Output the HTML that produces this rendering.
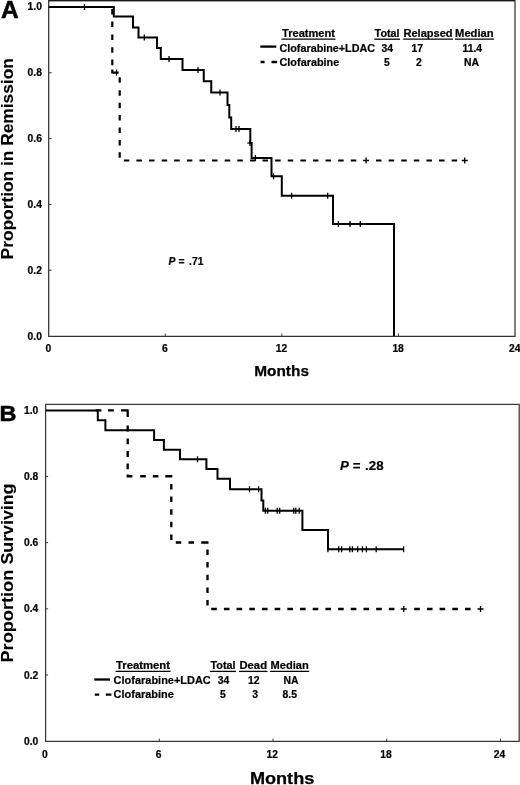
<!DOCTYPE html>
<html lang="en">
<head>
<meta charset="utf-8">
<title>Kaplan-Meier curves: remission and survival</title>
<style>
html,body{margin:0;padding:0;background:#fff;}
body{width:520px;height:785px;overflow:hidden;}
svg{display:block;will-change:transform;}
svg text{font-family:"Liberation Sans", Arial, sans-serif;font-weight:bold;fill:#000;stroke:#000;stroke-width:0.22px;stroke-linejoin:round;}
svg text.big{stroke-width:0.5px;}
svg text.ylab{stroke-width:0.12px;}
svg text.mon{stroke-width:0.25px;}
</style>
</head>
<body>
<svg width="520" height="785" viewBox="0 0 520 785">
<rect width="520" height="785" fill="#fff"/>
<g>
<path d="M48.7,0.5H515.0V336.3H48.7Z" fill="none" stroke="#333" stroke-width="1.25"/>
<path d="M48.7,0.5H515.0" fill="none" stroke="#1a1a1a" stroke-width="1.4"/>
<path d="M48.7,7.00h3M48.7,72.80h3M48.7,138.60h3M48.7,204.40h3M48.7,270.20h3M165.28,336.3v-2.8M281.86,336.3v-2.8M398.44,336.3v-2.8" fill="none" stroke="#3a3a3a" stroke-width="1"/>
<path d="M48.7,7H113.8V16.6H133V27.5H138.5V37.5H157V48H160.8V59H182.5V70H203.75V81.2H211.25V92.5H227.5V105H229.3V117.5H231.2V129H250.3V143H251.6V158H271.5V176.2H281.8V195.7H333V224H394V336" fill="none" stroke="#000" stroke-width="2" stroke-linejoin="miter"/>
<path d="M84.50,4.00V10.00M144.30,34.50V40.50M169.00,56.00V62.00M198.00,67.00V73.00M220.00,89.50V95.50M236.00,126.00V132.00M239.00,126.00V132.00M250.00,140.00V146.00M255.40,155.00V161.00M273.50,173.20V179.20M291.60,192.70V198.70M327.70,192.70V198.70M338.40,221.00V227.00M350.00,221.00V227.00M360.30,221.00V227.00" fill="none" stroke="#000" stroke-width="1.3"/>
<path d="M247.3,143H252.5" fill="none" stroke="#000" stroke-width="1.2"/>
<path d="M112.30,9.00V14.60M112.30,21.50V27.10M112.30,34.40V40.00M112.30,47.20V52.80M112.30,59.60V65.20M112.3,69.6V73.5M112.5,72.6H118.6M119.70,77.30V82.80M119.70,90.20V95.70M119.70,102.70V108.20M119.70,115.00V120.50M119.70,127.40V132.90M119.70,140.00V145.50M119.70,152.30V157.80M123.80,160.50H129.30M136.41,160.50H141.91M149.02,160.50H154.52M161.63,160.50H167.13M174.24,160.50H179.74M186.85,160.50H192.35M199.46,160.50H204.96M212.07,160.50H217.57M224.68,160.50H230.18M237.29,160.50H242.79M249.90,160.50H255.40M262.51,160.50H268.01M275.12,160.50H280.62M287.73,160.50H293.23M300.34,160.50H305.84M312.95,160.50H318.45M325.56,160.50H331.06M338.17,160.50H343.67M350.78,160.50H356.28M376.00,160.50H381.50M388.61,160.50H394.11M401.22,160.50H406.72M413.83,160.50H419.33M426.44,160.50H431.94M439.05,160.50H444.55M451.66,160.50H457.16" fill="none" stroke="#000" stroke-width="2.2"/>
<path d="M116.50,69.60V75.60" fill="none" stroke="#000" stroke-width="1.2"/>
<path d="M363.10,160.50H369.10M366.10,157.50V163.50M461.70,160.50H467.70M464.70,157.50V163.50" fill="none" stroke="#000" stroke-width="1.3"/>
<path d="M45.6,404.3H519.2V741.45H45.6Z" fill="none" stroke="#383838" stroke-width="1.25"/>
<path d="M45.6,410.30h2.5M45.6,476.48h2.5M45.6,542.66h2.5M45.6,608.84h2.5M45.6,675.02h2.5M159.30,741.45v-2.8M273.00,741.45v-2.8M386.70,741.45v-2.8M500.40,741.45v-2.8" fill="none" stroke="#3a3a3a" stroke-width="1"/>
<path d="M45.6,410.6H97.8V420.3H105.4V430.2H154.1V440.1H163.9V449.8H180V459.3H206.4V469H217.5V478.8H230V489.2H261.5V500.5H263.3V510.7H302.4V530H328V549.2H403.7" fill="none" stroke="#000" stroke-width="2" stroke-linejoin="miter"/>
<path d="M197.50,456.30V462.30M249.50,486.20V492.20M258.60,486.20V492.20M265.40,507.70V513.70M267.70,507.70V513.70M277.20,507.70V513.70M279.70,507.70V513.70M293.80,507.70V513.70M295.80,507.70V513.70M299.20,507.70V513.70M327.90,546.20V552.20M338.70,546.20V552.20M341.60,546.20V552.20M349.80,546.20V552.20M352.40,546.20V552.20M357.70,546.20V552.20M362.40,546.20V552.20M366.40,546.20V552.20M376.20,546.20V552.20M403.60,546.20V552.20" fill="none" stroke="#000" stroke-width="1.3"/>
<path d="M95.60,410.40H101.40M108.00,410.40H113.80M121,410.4H128.7M127.70,411.20V417.10M127.70,425.60V431.50M127.70,438.40V444.30M127.70,451.00V456.90M127.70,463.40V469.30M127.7,474.4V477.2M126.7,476.2H132.4M140.20,476.20H145.80M152.80,476.20H158.40M165.3,476.2H172.3M171.30,484.00V489.50M171.30,496.60V502.10M171.30,509.20V514.70M171.30,521.80V527.30M171.30,534.40V539.90M175.75,542.50H181.25M188.50,542.50H194.00M201.25,542.5H208.5M207.50,549.50V555.00M207.50,562.00V567.50M207.50,574.80V580.30M207.50,587.50V593.00M207.50,600.00V605.50M211.20,609.00H216.80M223.89,609.00H229.49M236.58,609.00H242.18M249.27,609.00H254.87M261.96,609.00H267.56M274.65,609.00H280.25M287.34,609.00H292.94M300.03,609.00H305.63M312.72,609.00H318.32M325.41,609.00H331.01M338.10,609.00H343.70M350.79,609.00H356.39M363.48,609.00H369.08M376.17,609.00H381.77M388.86,609.00H394.46M414.24,609.00H419.84M426.93,609.00H432.53M439.62,609.00H445.22M452.31,609.00H457.91M465.00,609.00H470.60" fill="none" stroke="#000" stroke-width="2.35"/>
<path d="M400.75,609.00H406.75M403.75,606.00V612.00M477.50,609.00H483.50M480.50,606.00V612.00" fill="none" stroke="#000" stroke-width="1.3"/>
</g>
<g>
<text x="0.9" y="18.2" font-size="23.3" text-anchor="start" textLength="17.7" lengthAdjust="spacingAndGlyphs" class="big">A</text>
<text x="-0.6" y="421.1" font-size="22" text-anchor="start" textLength="16.9" lengthAdjust="spacingAndGlyphs" class="big">B</text>
<text x="41.9" y="9.8" font-size="10.3" text-anchor="end">1.0</text>
<text x="41.9" y="76.3" font-size="10.3" text-anchor="end">0.8</text>
<text x="41.9" y="142.1" font-size="10.3" text-anchor="end">0.6</text>
<text x="41.9" y="207.9" font-size="10.3" text-anchor="end">0.4</text>
<text x="41.9" y="273.7" font-size="10.3" text-anchor="end">0.2</text>
<text x="41.9" y="339.5" font-size="10.3" text-anchor="end">0.0</text>
<text x="48.4" y="351.7" font-size="10.3" text-anchor="middle">0</text>
<text x="164.98" y="351.7" font-size="10.3" text-anchor="middle">6</text>
<text x="281.56" y="351.7" font-size="10.3" text-anchor="middle">12</text>
<text x="398.14" y="351.7" font-size="10.3" text-anchor="middle">18</text>
<text x="509" y="351.7" font-size="10.3" text-anchor="start">24</text>
<text x="254.2" y="375.8" font-size="15.2" text-anchor="start" textLength="54.8" lengthAdjust="spacingAndGlyphs" class="mon">Months</text>
<text class="ylab" transform="translate(12.9,259.4) rotate(-90)" font-size="17" textLength="201.2" lengthAdjust="spacingAndGlyphs">Proportion in Remission</text>
<text x="282" y="37.3" font-size="10.7" text-anchor="start" textLength="53" lengthAdjust="spacingAndGlyphs">Treatment</text>
<path d="M281.5,39.2H335.5" stroke="#000" stroke-width="1.3" fill="none"/>
<text x="374.6" y="37.3" font-size="10.7" text-anchor="start" textLength="25" lengthAdjust="spacingAndGlyphs">Total</text>
<path d="M374.3,39.2H400" stroke="#000" stroke-width="1.3" fill="none"/>
<text x="403.5" y="37.3" font-size="10.7" text-anchor="start" textLength="49" lengthAdjust="spacingAndGlyphs">Relapsed</text>
<path d="M403.2,39.2H453" stroke="#000" stroke-width="1.3" fill="none"/>
<text x="455.1" y="37.3" font-size="10.7" text-anchor="start" textLength="38.5" lengthAdjust="spacingAndGlyphs">Median</text>
<path d="M454.9,39.2H494" stroke="#000" stroke-width="1.3" fill="none"/>
<path d="M260.3,46.6H276.3" stroke="#000" stroke-width="2.3" fill="none"/>
<text x="279.5" y="51.8" font-size="10.7" text-anchor="start" textLength="95.5" lengthAdjust="spacingAndGlyphs">Clofarabine+LDAC</text>
<text x="387.2" y="51.8" font-size="10.4" text-anchor="middle">34</text>
<text x="417.3" y="51.8" font-size="10.4" text-anchor="middle">17</text>
<text x="472.3" y="51.8" font-size="10.4" text-anchor="middle">11.4</text>
<path d="M260.6,62H264.6M271.5,62H277.2" stroke="#000" stroke-width="2.3" fill="none"/>
<text x="279.5" y="65.7" font-size="10.7" text-anchor="start" textLength="59.8" lengthAdjust="spacingAndGlyphs">Clofarabine</text>
<text x="386.8" y="65.7" font-size="10.4" text-anchor="middle">5</text>
<text x="419" y="65.7" font-size="10.4" text-anchor="middle">2</text>
<text x="471.5" y="65.7" font-size="10.4" text-anchor="middle">NA</text>
<text x="168.6" y="265" font-size="10.3"><tspan font-style="italic">P</tspan><tspan dx="0.2"> =</tspan><tspan dx="1.7"> .71</tspan></text>
<text x="38.3" y="413.8" font-size="10.3" text-anchor="end">1.0</text>
<text x="38.3" y="479.98" font-size="10.3" text-anchor="end">0.8</text>
<text x="38.3" y="546.16" font-size="10.3" text-anchor="end">0.6</text>
<text x="38.3" y="612.34" font-size="10.3" text-anchor="end">0.4</text>
<text x="38.3" y="678.52" font-size="10.3" text-anchor="end">0.2</text>
<text x="38.3" y="744.7" font-size="10.3" text-anchor="end">0.0</text>
<text x="44.8" y="757.6" font-size="10.3" text-anchor="middle">0</text>
<text x="158.5" y="757.6" font-size="10.3" text-anchor="middle">6</text>
<text x="272.2" y="757.6" font-size="10.3" text-anchor="middle">12</text>
<text x="385.9" y="757.6" font-size="10.3" text-anchor="middle">18</text>
<text x="499.6" y="757.6" font-size="10.3" text-anchor="middle">24</text>
<text x="249.9" y="783.5" font-size="16" text-anchor="start" textLength="64.4" lengthAdjust="spacingAndGlyphs" class="mon">Months</text>
<text class="ylab" transform="translate(12.7,662.5) rotate(-90)" font-size="17" textLength="92.8" lengthAdjust="spacingAndGlyphs">Proportion</text>
<text class="ylab" transform="translate(12.7,564.6) rotate(-90)" font-size="17" textLength="81.1" lengthAdjust="spacingAndGlyphs">Surviving</text>
<text x="116" y="669.3" font-size="10.7" text-anchor="start" textLength="54" lengthAdjust="spacingAndGlyphs">Treatment</text>
<path d="M115.6,671.4H170.5" stroke="#000" stroke-width="1.3" fill="none"/>
<text x="210.5" y="669.2" font-size="10.7" text-anchor="start" textLength="25" lengthAdjust="spacingAndGlyphs">Total</text>
<path d="M210,671.4H236" stroke="#000" stroke-width="1.3" fill="none"/>
<text x="239.5" y="669.2" font-size="10.7" text-anchor="start" textLength="27.5" lengthAdjust="spacingAndGlyphs">Dead</text>
<path d="M239,671.4H267.5" stroke="#000" stroke-width="1.3" fill="none"/>
<text x="270.5" y="669.2" font-size="10.7" text-anchor="start" textLength="38.2" lengthAdjust="spacingAndGlyphs">Median</text>
<path d="M270,671.4H309.2" stroke="#000" stroke-width="1.3" fill="none"/>
<path d="M94.3,679.5H110" stroke="#000" stroke-width="2.3" fill="none"/>
<text x="113.6" y="683.7" font-size="10.7" text-anchor="start" textLength="97.2" lengthAdjust="spacingAndGlyphs">Clofarabine+LDAC</text>
<text x="223.5" y="683.7" font-size="10.4" text-anchor="middle">34</text>
<text x="253.7" y="683.7" font-size="10.4" text-anchor="middle">12</text>
<text x="291" y="683.7" font-size="10.4" text-anchor="middle">NA</text>
<path d="M94.8,694.7H99.2M105.8,694.7H111.4" stroke="#000" stroke-width="2.3" fill="none"/>
<text x="113.6" y="698" font-size="10.7" text-anchor="start" textLength="60.3" lengthAdjust="spacingAndGlyphs">Clofarabine</text>
<text x="222.8" y="698" font-size="10.4" text-anchor="middle">5</text>
<text x="255.2" y="698" font-size="10.4" text-anchor="middle">3</text>
<text x="289.8" y="698" font-size="10.4" text-anchor="middle">8.5</text>
<text x="340.1" y="470" font-size="13.3"><tspan font-style="italic">P</tspan> =<tspan dx="0.9"> .28</tspan></text>
</g>
</svg>
</body>
</html>
